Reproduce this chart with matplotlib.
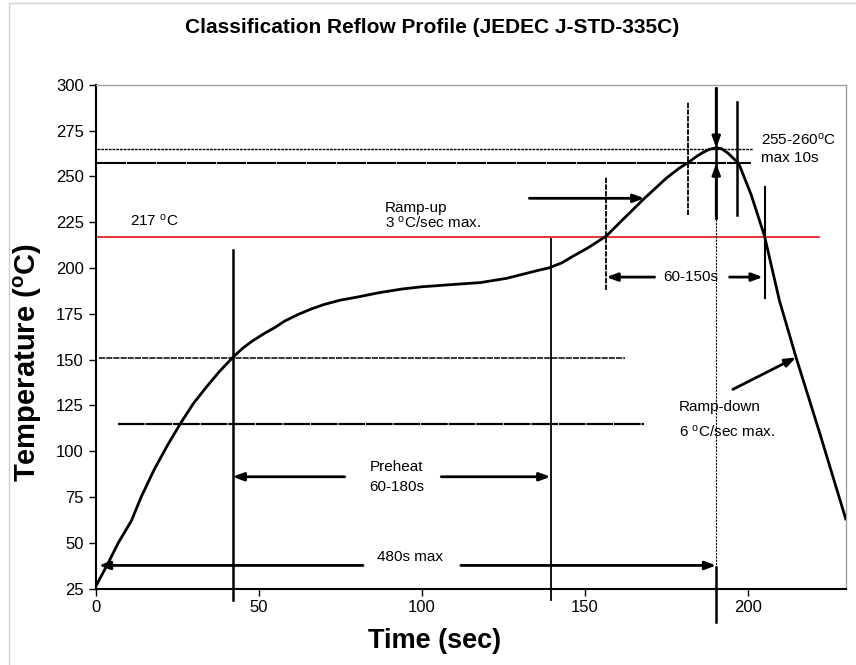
import matplotlib.pyplot as plt
from matplotlib.patches import Rectangle

# profile
time_s = [0, 3.5, 7, 11, 14, 18, 22, 26, 30, 34, 38, 42, 45, 48, 52, 55, 58,
          62, 66, 70, 75, 80, 87, 94, 100, 110, 118, 126, 132, 136, 139, 143,
          146, 151, 156.6, 162, 168.3, 175, 179, 181.6, 184, 186, 188, 190.3,
          192, 194, 197.2, 201, 205.1, 209.7, 214.8, 222, 230]
temp_c = [26, 37.6, 50, 62, 75, 90, 103, 115, 126, 135, 143.5, 151, 156, 160,
          164.5, 167.5, 171, 174.5, 177.5, 180, 182.4, 184, 186.5, 188.5, 189.7,
          191, 192, 194.3, 197, 198.8, 200, 202.8, 206, 211, 217.4, 227, 238,
          249, 254.5, 257.4, 260.5, 262.8, 264.6, 265.6, 265, 262.5, 257, 240,
          217.4, 182, 151, 110, 63]

liquidus = 217
peak_hi, peak_lo = 265, 257.4
preheat_lo, preheat_hi = 151, 115
preheat_start, preheat_end = 42, 139.5
liq_start, liq_end = 156.6, 205.1
peak_t = 190.3
peak_win = [181.6, 196.6]

x_ticks = [0, 50, 100, 150, 200]
y_ticks = [25, 50, 75, 100, 125, 150, 175, 200, 225, 250, 275, 300]

plt.rcParams['font.family'] = ['Liberation Sans', 'DejaVu Sans']

fig = plt.figure(figsize=(8.56, 6.65), dpi=100)
fig.patches.append(Rectangle((0.011, -0.01), 1.0, 1.005, transform=fig.transFigure,
                             fill=False, edgecolor='#d0d0d0', lw=1))
ax = fig.add_axes([0.1116, 0.1150, 0.8764, 0.7576])
ax.set_xlim(0, 230)
ax.set_ylim(25, 300)

# curve
ax.plot(time_s, temp_c, color='black', lw=2.0, zorder=5, solid_joinstyle='round')

# horizontal reference lines
ax.plot([0, 221.7], [liquidus, liquidus], color='#e01010', lw=1.2)
ax.plot([0.5, 201.5], [peak_hi, peak_hi], color='black', lw=1.0, ls=(0, (2, 0.7)))
ax.plot([0.5, 201], [peak_lo, peak_lo], color='black', lw=1.5, ls=(0, (14, 0.4)))
ax.plot([1, 162.2], [preheat_lo, preheat_lo], color='black', lw=1.1, ls=(0, (4, 0.7)))
ax.plot([7, 168.3], [preheat_hi, preheat_hi], color='black', lw=1.6, ls=(0, (12, 0.4)))

# vertical reference lines
kw = dict(color='black', clip_on=False)
ax.plot([preheat_start, preheat_start], [18.7, 210], lw=1.8, **kw)
ax.plot([preheat_end, preheat_end], [18.7, 216], lw=1.3, **kw)
ax.plot([liq_start, liq_start], [188, 249.8], lw=1.3, ls=(0, (3, 0.7)), **kw)
ax.plot([liq_end, liq_end], [183.4, 244.3], lw=1.5, **kw)
ax.plot([peak_win[0], peak_win[0]], [228.9, 290.7], lw=1.3, ls=(0, (3, 0.7)), **kw)
ax.plot([peak_win[1], peak_win[1]], [228.9, 290.7], lw=1.8, **kw)
ax.plot([peak_t, peak_t], [227, 298], lw=1.8, **kw)
ax.plot([peak_t, peak_t], [36, 227], lw=0.8, ls=(0, (2, 1)), **kw)
ax.plot([peak_t, peak_t], [7, 37], lw=1.8, **kw)


def arrow(x0, y0, x1, y1):
    ax.annotate('', xy=(x1, y1), xytext=(x0, y0),
                arrowprops=dict(arrowstyle='-|>,head_length=0.65,head_width=0.24',
                                color='black', lw=2.0, shrinkA=0, shrinkB=0),
                zorder=6)


arrow(76.4, 86, preheat_start, 86)
arrow(106, 86, preheat_end, 86)
arrow(82, 37.6, 1, 37.6)
arrow(112, 37.6, peak_t, 37.6)
arrow(171.4, 195, liq_start, 195)
arrow(194.4, 195, liq_end - 0.5, 195)
arrow(133, 238, 168.3, 238)
arrow(195.4, 133.7, 214.8, 151.2)
arrow(peak_t, 298, peak_t, peak_hi + 0.5)
arrow(peak_t, 227, peak_t, peak_lo - 0.3)

# annotations
deg = r'$\mathregular{^o}$'
fs = 11
ax.text(10.5, 226, '217 ' + deg + 'C', fontsize=fs, va='center')
ax.text(88.8, 232.5, 'Ramp-up', fontsize=fs, va='center')
ax.text(88.8, 224.5, '3 ' + deg + 'C/sec max.', fontsize=fs, va='center')
ax.text(204, 270.2, '255-260' + deg + 'C', fontsize=fs, va='center')
ax.text(204, 259.8, 'max 10s', fontsize=fs, va='center')
ax.text(182.6, 195, '60-150s', fontsize=fs, ha='center', va='center')
ax.text(92.3, 91.5, 'Preheat', fontsize=fs, ha='center', va='center')
ax.text(92.3, 80.6, '60-180s', fontsize=fs, ha='center', va='center')
ax.text(96.4, 42.4, '480s max', fontsize=fs, ha='center', va='center')
ax.text(178.9, 123.9, 'Ramp-down', fontsize=fs, va='center')
ax.text(178.9, 110.6, '6 ' + deg + 'C/sec max.', fontsize=fs, va='center')

# axes styling
ax.set_xticks(x_ticks)
ax.set_yticks(y_ticks)
ax.tick_params(direction='out', length=5, width=1, labelsize=12, colors='black')
for s in ['top', 'right']:
    ax.spines[s].set_color('#a0a0a0')
    ax.spines[s].set_linewidth(1.0)
for s in ['left', 'bottom']:
    ax.spines[s].set_color('black')
    ax.spines[s].set_linewidth(1.5)

fig.text(0.505, 0.958, 'Classification Reflow Profile (JEDEC J-STD-335C)',
         fontsize=15, fontweight='bold', ha='center', va='center')
fig.text(0.508, 0.036, 'Time (sec)', fontsize=19.5, fontweight='bold',
         ha='center', va='center')
fig.text(0.033, 0.455, 'Temperature (' + deg + 'C)', fontsize=21, fontweight='bold',
         ha='center', va='center', rotation=90)

fig.savefig('out.png', dpi=100)
